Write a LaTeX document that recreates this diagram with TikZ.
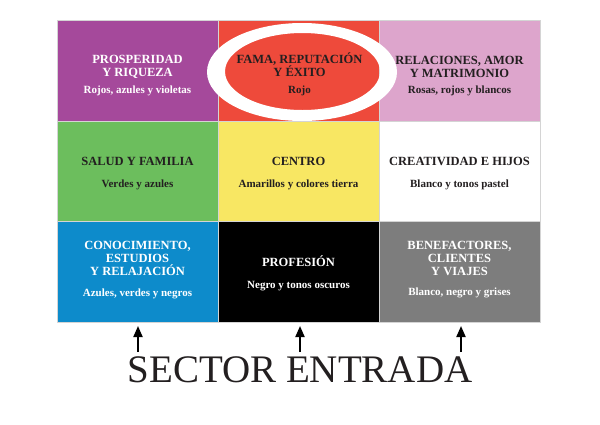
\documentclass[tikz,border=0pt]{standalone}
\usepackage{fontspec}
\setmainfont{Liberation Serif}
\usetikzlibrary{arrows.meta}
\definecolor{cpurple}{HTML}{A5499B}
\definecolor{cred}{HTML}{EE4A3B}
\definecolor{cpink}{HTML}{DDA5CC}
\definecolor{cgreen}{HTML}{6CBE5D}
\definecolor{cyellow}{HTML}{F8E763}
\definecolor{cblue}{HTML}{0D8BCB}
\definecolor{cgray}{HTML}{7D7D7D}
\definecolor{cdark}{HTML}{231F20}
\definecolor{cline}{HTML}{D4D4D4}
\tikzset{
  cell/.style={draw=cline, line width=0.8pt, minimum width=161pt, minimum height=101pt, inner sep=0, outer sep=0},
  ttl/.style={font=\fontsize{12.5}{13}\selectfont\bfseries, anchor=base, inner sep=0},
  sub/.style={font=\fontsize{11}{12}\selectfont\bfseries, anchor=base, inner sep=0},
  up/.style={line width=2pt, -{Triangle[width=9pt,length=11pt]}},
}
\begin{document}
\begin{tikzpicture}[x=1pt,y=-1pt]
\useasboundingbox (0,0) rectangle (600,424);
% cells
\node[cell, fill=cpurple] (c11) at (137.5,70.5) {};
\node[cell, fill=cred]    (c12) at (298.5,70.5) {};
\node[cell, fill=cpink]   (c13) at (459.5,70.5) {};
\node[cell, fill=cgreen]  (c21) at (137.5,171.5) {};
\node[cell, fill=cyellow] (c22) at (298.5,171.5) {};
\node[cell, fill=white]   (c23) at (459.5,171.5) {};
\node[cell, fill=cblue]   (c31) at (137.5,272) {};
\node[cell, fill=black]   (c32) at (298.5,272) {};
\node[cell, fill=cgray]   (c33) at (459.5,272) {};
% row 1
\node[ttl, text=white] (t11a) at (137.5,63) {PROSPERIDAD};
\node[ttl, text=white] (t11b) at (137.5,76) {Y RIQUEZA};
\node[sub, text=white] (s11)  at (137.5,93) {Rojos, azules y violetas};
\node[ttl, text=cdark] (t12a) at (299.5,63) {FAMA, REPUTACIÓN};
\node[ttl, text=cdark] (t12b) at (299.5,76) {Y ÉXITO};
\node[sub, text=cdark] (s12)  at (299.5,93) {Rojo};
\node[ttl, text=cdark] (t13a) at (459.5,64) {RELACIONES, AMOR};
\node[ttl, text=cdark] (t13b) at (459.5,77) {Y MATRIMONIO};
\node[sub, text=cdark] (s13)  at (459.5,93) {Rosas, rojos y blancos};
% row 2
\node[ttl, text=cdark] (t21) at (137.5,165) {SALUD Y FAMILIA};
\node[sub, text=cdark] (s21) at (137.5,187) {Verdes y azules};
\node[ttl, text=cdark] (t22) at (298.5,165) {CENTRO};
\node[sub, text=cdark] (s22) at (298.5,187) {Amarillos y colores tierra};
\node[ttl, text=cdark] (t23) at (459.5,165) {CREATIVIDAD E HIJOS};
\node[sub, text=cdark] (s23) at (459.5,187) {Blanco y tonos pastel};
% row 3
\node[ttl, text=white] (t31a) at (137.5,249) {CONOCIMIENTO,};
\node[ttl, text=white] (t31b) at (137.5,262) {ESTUDIOS};
\node[ttl, text=white] (t31c) at (137.5,275) {Y RELAJACIÓN};
\node[sub, text=white] (s31)  at (137.5,296) {Azules, verdes y negros};
\node[ttl, text=white] (t32)  at (298.5,266) {PROFESIÓN};
\node[sub, text=white] (s32)  at (298.5,288) {Negro y tonos oscuros};
\node[ttl, text=white] (t33a) at (459.5,249) {BENEFACTORES,};
\node[ttl, text=white] (t33b) at (459.5,262) {CLIENTES};
\node[ttl, text=white] (t33c) at (459.5,275) {Y VIAJES};
\node[sub, text=white] (s33)  at (459.5,295) {Blanco, negro y grises};
% ring
\fill[white, even odd rule] (302,72) ellipse [x radius=95, y radius=49]
  (302.5,71.5) ellipse [x radius=77.5, y radius=38.5];
% arrows
\coordinate (a1s) at (138,352); \coordinate (a1e) at (138,326);
\coordinate (a2s) at (300,352); \coordinate (a2e) at (300,326);
\coordinate (a3s) at (461,352); \coordinate (a3e) at (461,326);
\draw[up] (a1s) -- (a1e);
\draw[up] (a2s) -- (a2e);
\draw[up] (a3s) -- (a3e);
\node[anchor=base, inner sep=0, font=\fontsize{39}{40}\selectfont, text=cdark] (lbl) at (300,382) {SECTOR ENTRADA};
\end{tikzpicture}
\end{document}
